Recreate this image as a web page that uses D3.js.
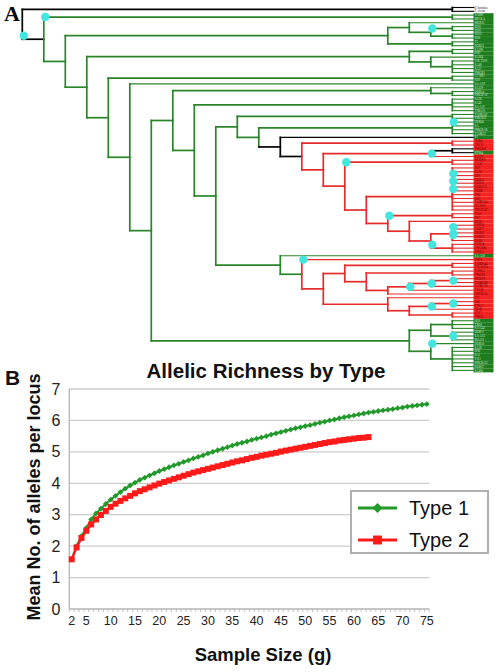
<!DOCTYPE html>
<html><head><meta charset="utf-8">
<script src="https://cdn.jsdelivr.net/npm/d3@7"></script>
<style>body{margin:0;background:#fff}svg{display:block}</style>
</head><body>
<svg id="fig" width="498" height="672"></svg>
<script>
// ================= Panel A data =================
const leafNames = ["P. hominis","T. foetus","SA889","MPALA","MOR31","SDI1","SDI3","SD12","SD8","T1",
"DOR21","SA396","PSD","SA364","TNCT200","SA48","SA57","PMGB1","C1 NB1","SD9",
"SA-A19","SA229","DOR14","PMGB-19","SA38","SA40","SA-A31","TNB121","TAHB162","PMGB22",
"DOR41","SA","PMGB-18","TAHB51","S1","TOR4","TNC11","PMGB-8","RTS64","SA508",
"MOR891","T1147","SD9","DLS8","SD9","DOR13","DOR11","DOR11-2","DOR8","SD4",
"SD6","TAHB154","2HAWH","TNCD147","T150","SD7","SD18","DOR16","DOR77","DOR31",
"DOR22","DOR3","DOR14","PMGB86","DOR11","SA-A30","TSN1","TAHB144","TNCD224","TAWL3",
"PMGB3","MOR39","TAHB168","TAHB176","TX146","PMGB-24","S75","S68","PTBC2","SB-41",
"SD17","TX850","SD2","TX68","SA-A42","DOR17","SA-A33","MA221","DOR10","SA28",
"SD6","SA1","T111","PMGB-23","DOR57","SA466"];
const leafTypes = ["O","O","G","G","G","G","G","G","G","G",
"G","G","G","G","G","G","G","G","G","G",
"G","G","G","G","G","G","G","G","G","G",
"G","G","G","G","G","R","R","R","G","R",
"R","R","R","R","R","R","R","R","R","R",
"R","R","R","R","R","R","R","R","R","R",
"R","R","R","R","R","G","R","R","R","R",
"R","R","R","R","R","R","R","R","R","R",
"R","R","G","G","G","G","G","G","G","G",
"G","G","G","G","G","G"];
// Topology: leaves are indices; internal label = depth level + branch colour (in[,vertical]) + support mark
const treeNewick =
"((0,1)20k,((2,3)20g,(((4,((5,6)20g,(7,8)20g)19g*)18g,(9,10)20g)17g," +
"(((11,12)20g,(13,(14,15,16,17)20g)19g)18g,((18,19)20g,(20,(" +
"((21,(22,23)20g)19g,((24,25,26,27)20g,(((28,29)20g,((30,31,32,33)20g*,(34," +
"((35,36)20r,(((37,38)20k,39)19r@,((40,41)20r,(((42,(43,44)20r@,(45,46)20r@,(47,48)20r@,49,50)20r,51,52,53)20r," +
"((54,55)20r,(56,(((57,58)20r@,(59,60)20r@,61)20r@,(62,63,64)20r)19r_)18r)17r*)16r)15r*)14r)13kr)12k)11g)10g," +
"(65,(66,(((67,68)20r,((69,70)20r,((((71,72)20r@,73)19r@,74)18r@,75)17r)16r)15r," +
"(76,(((77,78)20r@,79)19r@,(80,81)20r)18r)17r)14r)13gr*)12g)9g)8g)7g," +
"(((82,83,84)20g,(85,86,87)20g@)19g,(88,(89,90,91,92,93,94,95)20g)19g*)18g)6g)5g)4g)3g)2g)1kg*)0k_";

// ================= Panel B data =================
const sampleSizes = [2,3,4,5,6,7,8,9,10,11,12,13,14,15,16,17,18,19,20,21,22,23,24,25,26,27,28,29,30,31,32,33,34,35,36,37,38,39,40,41,42,43,44,45,46,47,48,49,50,51,52,53,54,55,56,57,58,59,60,61,62,63,64,65,66,67,68,69,70,71,72,73,74,75];
const type1 = [1.59,2.00,2.32,2.58,2.85,3.04,3.19,3.34,3.48,3.60,
3.72,3.83,3.93,4.02,4.11,4.18,4.25,4.32,4.39,4.45,
4.51,4.57,4.62,4.68,4.73,4.79,4.84,4.89,4.95,5.00,
5.05,5.10,5.15,5.20,5.25,5.29,5.33,5.38,5.42,5.46,
5.50,5.55,5.59,5.63,5.67,5.71,5.75,5.78,5.82,5.85,
5.89,5.93,5.96,6.00,6.03,6.07,6.10,6.13,6.16,6.19,
6.22,6.25,6.27,6.30,6.32,6.34,6.36,6.39,6.41,6.44,
6.46,6.48,6.50,6.52];
const type2 = [1.58,1.96,2.26,2.49,2.69,2.85,2.99,3.12,3.25,3.35,
3.44,3.52,3.60,3.68,3.75,3.81,3.87,3.93,3.99,4.04,
4.09,4.14,4.19,4.24,4.29,4.34,4.38,4.42,4.46,4.50,
4.54,4.58,4.62,4.66,4.70,4.73,4.77,4.81,4.84,4.88,
4.91,4.94,4.97,5.01,5.04,5.07,5.10,5.13,5.16,5.19,
5.22,5.25,5.28,5.31,5.33,5.36,5.38,5.40,5.42,5.44,
5.45,5.47];
const xTickLabels = [2,5,10,15,20,25,30,35,40,45,50,55,60,65,70,75];
const yTicks = [0,1,2,3,4,5,6,7];
const seriesNames = ["Type 1","Type 2"];

// ================= drawing =================
const svg = d3.select("#fig");
const SANS = "'Liberation Sans', Arial, sans-serif";

function parseTree(s){
  let i = 0;
  function readLabel(){ let l=""; while(i<s.length && !",()".includes(s[i])) l+=s[i++]; return l; }
  function node(){
    if (s[i] === "("){
      i++; const children = [];
      while (true){ children.push(node()); if (s[i]===","){i++;continue;} if (s[i]===")"){i++;break;} }
      const m = readLabel().match(/^(\d+)([gkr]{1,2})([*_@]?)$/);
      return {children, depth:+m[1], inCol:m[2][0], vCol:m[2][m[2].length-1], dot:m[3]};
    }
    return {leaf:+readLabel(), depth:21};
  }
  return node();
}
const root = parseTree(treeNewick.replace(/\s+/g,""));
const xT = d3.scaleLinear().domain([0,21]).range([22.3,473.8]);
const yT = d3.scaleLinear().domain([0,leafNames.length-1]).range([7.5,370.4]);
const col = {g:"#2a852a", r:"#e62b2b", k:"#000000"};

(function layout(n){
  if (n.children){ n.children.forEach(layout); n.y = (n.children[0].y + n.children[n.children.length-1].y)/2; }
  else n.y = yT(n.leaf);
})(root);

const gA = svg.append("g").attr("stroke-linecap","square").attr("fill","none");
const dots = [];
(function draw(n){
  if (!n.children) return;
  const x0 = xT(n.depth), first = n.children[0], last = n.children[n.children.length-1];
  gA.append("line").attr("x1",x0).attr("x2",x0).attr("y1",first.y).attr("y2",last.y)
    .attr("stroke",col[n.vCol]).attr("stroke-width",1.7);
  n.children.forEach(c=>{
    const leaf = !c.children;
    gA.append("line").attr("x1",x0).attr("x2",xT(c.depth)).attr("y1",c.y).attr("y2",c.y)
      .attr("stroke", leaf ? col[n.vCol] : col[c.inCol]).attr("stroke-width", leaf?1.1:1.7);
    draw(c);
  });
  if (n.dot==="@") dots.push([x0+1, n.y]);
  if (n.dot==="*") dots.push([x0+1.5, first.y]);
  if (n.dot==="_") dots.push([x0+1.5, last.y-3.5]);
})(root);

// leaf label boxes
const gL = svg.append("g");
leafTypes.forEach((t,i)=>{
  if (t==="O") return;
  gL.append("rect").attr("x",473.5).attr("y",yT(i)-1.95).attr("width",20).attr("height",3.92)
    .attr("fill", t==="G" ? "#1e7d1e" : "#f52222");
});
leafNames.forEach((nm,i)=>{
  gL.append("text").attr("x",474.5).attr("y",yT(i)+1.1).text(nm)
    .attr("font-family","'Liberation Serif', serif").attr("font-size",3.1)
    .attr("fill", leafTypes[i]==="G" ? "#d6ead6" : (leafTypes[i]==="R" ? "#5a0000" : "#222"));
});
svg.append("g").selectAll("circle").data(dots).join("circle")
  .attr("cx",d=>d[0]).attr("cy",d=>d[1]).attr("r",4.2).attr("fill","#42e6de");

svg.append("text").attr("x",4).attr("y",21).text("A")
  .attr("font-family","'Liberation Serif', 'Times New Roman', serif").attr("font-weight","bold").attr("font-size",22);

// ================= Panel B =================
const xB = d3.scaleBand().domain(sampleSizes).range([69.3,429.3]);
const xc = d => xB(d) + xB.bandwidth()/2;
const yB = d3.scaleLinear().domain([0,7]).range([609,389]);
const gB = svg.append("g");

gB.append("g").selectAll("line").data(yTicks.filter(v=>v>0)).join("line")
  .attr("x1",69.3).attr("x2",429.3).attr("y1",d=>yB(d)).attr("y2",d=>yB(d))
  .attr("stroke","#cccccc").attr("stroke-width",1.3);
// axes
gB.append("line").attr("x1",69.3).attr("x2",69.3).attr("y1",yB(7)).attr("y2",yB(0)).attr("stroke","#b5b5b5").attr("stroke-width",1.3);
gB.append("line").attr("x1",69.3).attr("x2",429.3).attr("y1",yB(0)).attr("y2",yB(0)).attr("stroke","#b5b5b5").attr("stroke-width",1.3);
gB.append("g").selectAll("line").data(d3.range(sampleSizes.length+1)).join("line")
  .attr("x1",i=>69.3+i*xB.bandwidth()).attr("x2",i=>69.3+i*xB.bandwidth())
  .attr("y1",yB(0)).attr("y2",yB(0)+3).attr("stroke","#b5b5b5").attr("stroke-width",0.8);

const xAxisG = gB.append("g").attr("transform",`translate(0,${yB(0)})`)
  .call(d3.axisBottom(xB).tickValues(xTickLabels).tickSize(0).tickPadding(7));
xAxisG.select(".domain").remove();
xAxisG.selectAll("text").attr("font-family",SANS).attr("font-size",12.5).attr("fill","#222");
const yAxisG = gB.append("g").attr("transform","translate(69.3,0)")
  .call(d3.axisLeft(yB).tickValues(yTicks).tickSize(0).tickPadding(9).tickFormat(d3.format("d")));
yAxisG.select(".domain").remove();
yAxisG.selectAll("text").attr("font-family",SANS).attr("font-size",16).attr("fill","#222");

const green = "#22992a", red = "#ff1a1a";
const diamond = {draw(ctx,size){ const r=Math.sqrt(size/2); ctx.moveTo(0,-r); ctx.lineTo(r,0); ctx.lineTo(0,r); ctx.lineTo(-r,0); ctx.closePath(); }};
const d1 = sampleSizes.map((g,i)=>({g, v:type1[i]}));
const d2 = type2.map((v,i)=>({g:sampleSizes[i], v}));
const line = d3.line().x(d=>xc(d.g)).y(d=>yB(d.v));

gB.append("path").datum(d1).attr("d",line).attr("fill","none").attr("stroke",green).attr("stroke-width",2);
gB.append("g").selectAll("path").data(d1).join("path")
  .attr("transform",d=>`translate(${xc(d.g)},${yB(d.v)})`)
  .attr("d",d3.symbol().type(diamond).size(17)).attr("fill",green);
gB.append("path").datum(d2).attr("d",line).attr("fill","none").attr("stroke",red).attr("stroke-width",2.4);
gB.append("g").selectAll("path").data(d2).join("path")
  .attr("transform",d=>`translate(${xc(d.g)},${yB(d.v)})`)
  .attr("d",d3.symbol().type(d3.symbolSquare).size(36)).attr("fill",red);

// legend
const lg = gB.append("g");
lg.append("rect").attr("x",351).attr("y",491).attr("width",137).attr("height",62)
  .attr("fill","#fff").attr("stroke","#b0b0b0").attr("stroke-width",2);
[[green,diamond,50,508],[red,d3.symbolSquare,80,540]].forEach(([c,sym,sz,yy],k)=>{
  lg.append("line").attr("x1",358).attr("x2",397).attr("y1",yy).attr("y2",yy).attr("stroke",c).attr("stroke-width",3);
  lg.append("path").attr("transform",`translate(377.5,${yy})`).attr("d",d3.symbol().type(sym).size(sz)).attr("fill",c);
  lg.append("text").attr("x",409).attr("y",yy+7.3).text(seriesNames[k])
    .attr("font-family",SANS).attr("font-size",20).attr("fill","#111");
});

svg.append("text").attr("x",266).attr("y",378).attr("text-anchor","middle").text("Allelic Richness by Type")
  .attr("font-family",SANS).attr("font-weight","bold").attr("font-size",20.5).attr("fill","#111");
svg.append("text").attr("x",5).attr("y",385).text("B")
  .attr("font-family",SANS).attr("font-weight","bold").attr("font-size",21).attr("fill","#111");
svg.append("text").attr("x",263).attr("y",661).attr("text-anchor","middle").text("Sample Size (g)")
  .attr("font-family",SANS).attr("font-weight","bold").attr("font-size",18.5).attr("fill","#111");
svg.append("text").attr("transform","translate(40,497) rotate(-90)").attr("text-anchor","middle")
  .text("Mean No. of alleles per locus")
  .attr("font-family",SANS).attr("font-weight","bold").attr("font-size",18).attr("fill","#111");
</script>
</body></html>
